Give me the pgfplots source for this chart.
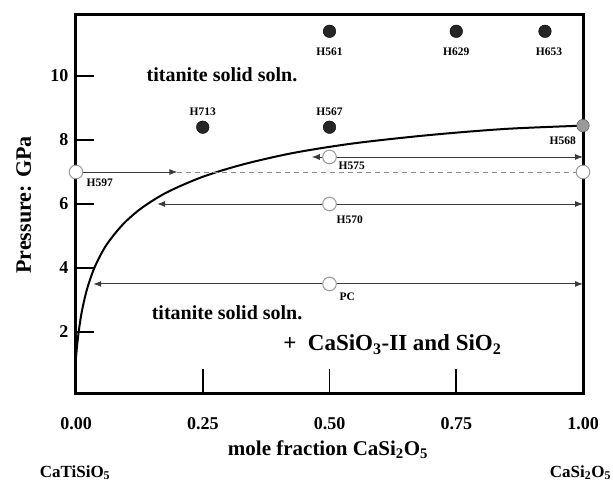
\documentclass[border=0pt]{standalone}
\usepackage{pgfplots}
\pgfplotsset{compat=1.18}
\usepackage{fontspec}
\setmainfont{Liberation Serif}
\usetikzlibrary{arrows.meta}

\definecolor{arrowgray}{HTML}{3A3A3A}
\definecolor{dashgray}{HTML}{8A8A8A}
\definecolor{circgray}{HTML}{9A9A9A}

\newcommand{\hl}[1]{\fontsize{11.5}{13}\selectfont\bfseries #1}

\begin{document}
\begin{tikzpicture}
\useasboundingbox (0,0) rectangle (613pt,-483pt);
\begin{axis}[
    at={(76pt,-393pt)}, anchor=south west,
    scale only axis, width=507pt, height=379pt,
    xmin=0, xmax=1, ymin=0.09, ymax=11.94,
    clip=false,
    axis line style={line width=3pt},
    tick align=inside, tick pos=left,
    major tick length=18pt,
    tick style={line width=1.8pt, black},
    xtick={0,0.25,0.5,0.75,1},
    xticklabels={0.00,0.25,0.50,0.75,1.00},
    xtick style={draw=none},
    ytick={2,4,6,8,10},
    yticklabels={2,4,6,8,10},
    ticklabel style={font=\fontsize{18}{20}\selectfont\bfseries},
    xticklabel style={yshift=-21pt},
    yticklabel style={xshift=-4pt},
    xlabel={mole fraction CaSi$_\mathbf{2}$O$_\mathbf{5}$},
    xlabel style={at={(axis description cs:0.497,-0.15)}, anchor=center,
        font=\fontsize{21}{24}\selectfont\bfseries},
    ylabel={Pressure: GPa},
    ylabel style={at={(axis description cs:-0.103,0.496)}, anchor=center,
        font=\fontsize{22}{24}\selectfont\bfseries},
]
% x ticks (longer than the y ticks)
\draw[line width=1.8pt] (axis cs:0.25,0.09) -- ++(0,27pt);
\draw[line width=1.8pt] (axis cs:0.5,0.09) -- ++(0,27pt);
\draw[line width=1.8pt] (axis cs:0.75,0.09) -- ++(0,27pt);

% solvus
\addplot[line width=2pt, smooth, tension=0.5] coordinates {
    (0.0,1.2) (0.002,1.55) (0.006,2.09) (0.012,2.68) (0.022,3.35)
    (0.037,4.03) (0.06,4.72) (0.093,5.37) (0.13,5.88) (0.18,6.37)
    (0.25,6.85) (0.33,7.24) (0.43,7.60) (0.55,7.90) (0.70,8.16)
    (0.85,8.35) (1.0,8.45)
};

% reversal arrows
\addplot[line width=0.9pt, arrowgray, {Latex[length=8pt,width=6pt]}-{Latex[length=8pt,width=6pt]}]
    coordinates {(0.465,7.47) (1,7.47)};
\addplot[line width=0.9pt, arrowgray, {Latex[length=8pt,width=6pt]}-{Latex[length=8pt,width=6pt]}]
    coordinates {(0.16,6) (1,6)};
\addplot[line width=0.9pt, arrowgray, {Latex[length=8pt,width=6pt]}-{Latex[length=8pt,width=6pt]}]
    coordinates {(0.034,3.5) (1,3.5)};
\addplot[line width=0.9pt, arrowgray, -{Latex[length=8pt,width=6pt]}]
    coordinates {(0,7) (0.2,7)};
\addplot[line width=0.9pt, dashgray, dash pattern=on 5pt off 4pt]
    coordinates {(0.2,7) (1,7)};

% experiments
\addplot[only marks, mark=*, mark size=6.3pt, mark options={fill=black!85, draw=black}]
    coordinates {(0.25,8.4) (0.5,8.4) (0.5,11.4) (0.75,11.4) (0.925,11.4)};
\addplot[only marks, mark=*, mark size=6.3pt, mark options={fill=circgray, draw=gray!60!black}]
    coordinates {(1,8.45)};
\addplot[only marks, mark=*, mark size=6.8pt, mark options={fill=white, draw=circgray, line width=1pt}]
    coordinates {(0,7) (1,7) (0.5,7.47) (0.5,6) (0.5,3.5)};

% run labels
\node at (axis cs:0.047,6.66) {\hl{H597}};
\node at (axis cs:0.25,8.875) {\hl{H713}};
\node at (axis cs:0.5,8.875) {\hl{H567}};
\node at (axis cs:0.5,10.75) {\hl{H561}};
\node at (axis cs:0.75,10.75) {\hl{H629}};
\node at (axis cs:0.933,10.75) {\hl{H653}};
\node at (axis cs:0.96,7.97) {\hl{H568}};
\node at (axis cs:0.544,7.19) {\hl{H575}};
\node at (axis cs:0.54,5.5) {\hl{H570}};
\node at (axis cs:0.535,3.09) {\hl{PC}};

% field labels
\node[font=\fontsize{20}{22}\selectfont\bfseries] at (axis cs:0.288,10.03) {titanite solid soln.};
\node[font=\fontsize{20}{22}\selectfont\bfseries] at (axis cs:0.298,2.6) {titanite solid soln.};
\node[font=\fontsize{23}{26}\selectfont\bfseries] at (axis cs:0.624,1.6) {+\ \ CaSiO$_\mathbf{3}$-II and SiO$_\mathbf{2}$};

% end members
\node[font=\fontsize{17}{20}\selectfont\bfseries] at (axis cs:-0.002,-2.4) {CaTiSiO$_\mathbf{5}$};
\node[font=\fontsize{17}{20}\selectfont\bfseries] at (axis cs:0.995,-2.4) {CaSi$_\mathbf{2}$O$_\mathbf{5}$};
\end{axis}
\end{tikzpicture}
\end{document}
